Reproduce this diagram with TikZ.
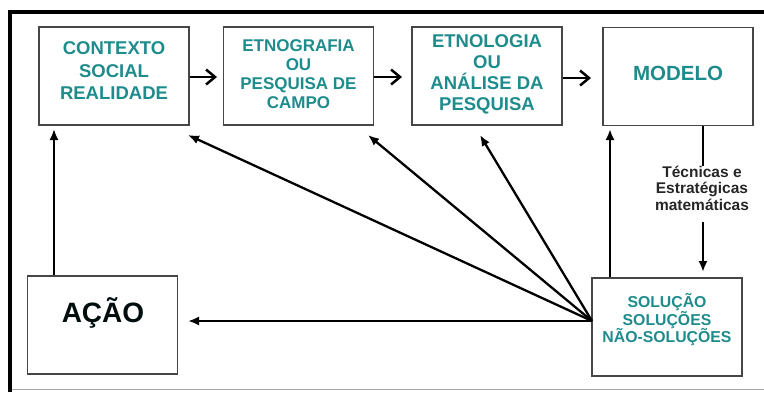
\documentclass[tikz,border=0pt]{standalone}
\usepackage{fontspec}
\setmainfont{Liberation Sans}
\usetikzlibrary{arrows.meta}
\definecolor{tealtxt}{RGB}{30,140,140}
\definecolor{boxline}{RGB}{70,70,70}
\tikzset{
  box/.style={draw=boxline, line width=1.5pt, rectangle, minimum width=150pt, minimum height=98pt, inner sep=0pt},
  lbl/.style={align=center, text=tealtxt, font=\bfseries, inner sep=0pt},
  flow/.style={line width=2.5pt, -{Straight Barb[length=9pt,width=15pt,line width=2.5pt]}},
  fan/.style={line width=2.3pt, -{Latex[length=11pt,width=9pt]}},
}
\begin{document}
\begin{tikzpicture}[x=1pt,y=-1pt]
\useasboundingbox (0,0) rectangle (764,392);
% frame
\draw[line width=1.5pt, black!35] (10,389.5) -- (764,389.5);
\draw[line width=4pt] (10,392) -- (10,12) -- (764,12);
% boxes
\node[box] (c1) at (114,76) {};
\node[box] (c2) at (298.5,76) {};
\node[box] (c3) at (487,76) {};
\node[box] (c4) at (678,76.5) {};
\node[box] (acao) at (102.5,325) {};
\node[box] (sol) at (667,327) {};
% texts
\node[lbl, font=\bfseries\fontsize{18.5}{22.5}\selectfont] (t1) at (114,71) {CONTEXTO\\SOCIAL\\REALIDADE};
\node[lbl, font=\bfseries\fontsize{17}{19}\selectfont] (t2) at (298.5,74) {ETNOGRAFIA\\OU\\PESQUISA DE\\CAMPO};
\node[lbl, font=\bfseries\fontsize{18.5}{21}\selectfont] (t3) at (487,74) {ETNOLOGIA\\OU\\ANÁLISE DA\\PESQUISA};
\node[lbl, font=\bfseries\fontsize{20.5}{24}\selectfont] (t4) at (678,73) {MODELO};
\node[lbl, text=black!90!teal, font=\bfseries\fontsize{28}{32}\selectfont] (t5) at (103,313) {AÇÃO};
\node[lbl, font=\bfseries\fontsize{15.8}{17.5}\selectfont] (t6) at (667,320) {SOLUÇÃO\\SOLUÇÕES\\NÃO-SOLUÇÕES};
\node[align=center, inner sep=0pt, text=black!85, font=\bfseries\fontsize{15.5}{16.5}\selectfont] (tec) at (702,188) {Técnicas e\\Estratégicas\\matemáticas};
% coordinates
\coordinate (hub) at (592,321);
\coordinate (e1) at (188,135);
\coordinate (e2) at (368,135);
\coordinate (e3) at (480,135);
\coordinate (ea) at (188,321);
% flow arrows
\draw[flow] (c1.east |- 0,77) -- (217,77);
\draw[flow] (c2.east |- 0,77) -- (402,77);
\draw[flow] (c3.east |- 0,78) -- (591,78);
% action to context
\draw[line width=2pt, -{Latex[length=11pt,width=9pt]}] (acao.north -| 54,0) -- (54,129);
% fan
\draw[fan] (hub) -- (ea);
\draw[fan] (hub) -- (e1);
\draw[fan] (hub) -- (e2);
\draw[fan] (hub) -- (e3);
\draw[fan] (sol.north -| 610,0) -- (610,129);
% model to solution
\draw[line width=2.5pt] (c4.south -| 703,0) -- (tec.north -| 703,0);
\draw[line width=2.5pt, -{Latex[length=11pt,width=9pt]}] (703,222) -- (703,272);
\end{tikzpicture}
\end{document}
